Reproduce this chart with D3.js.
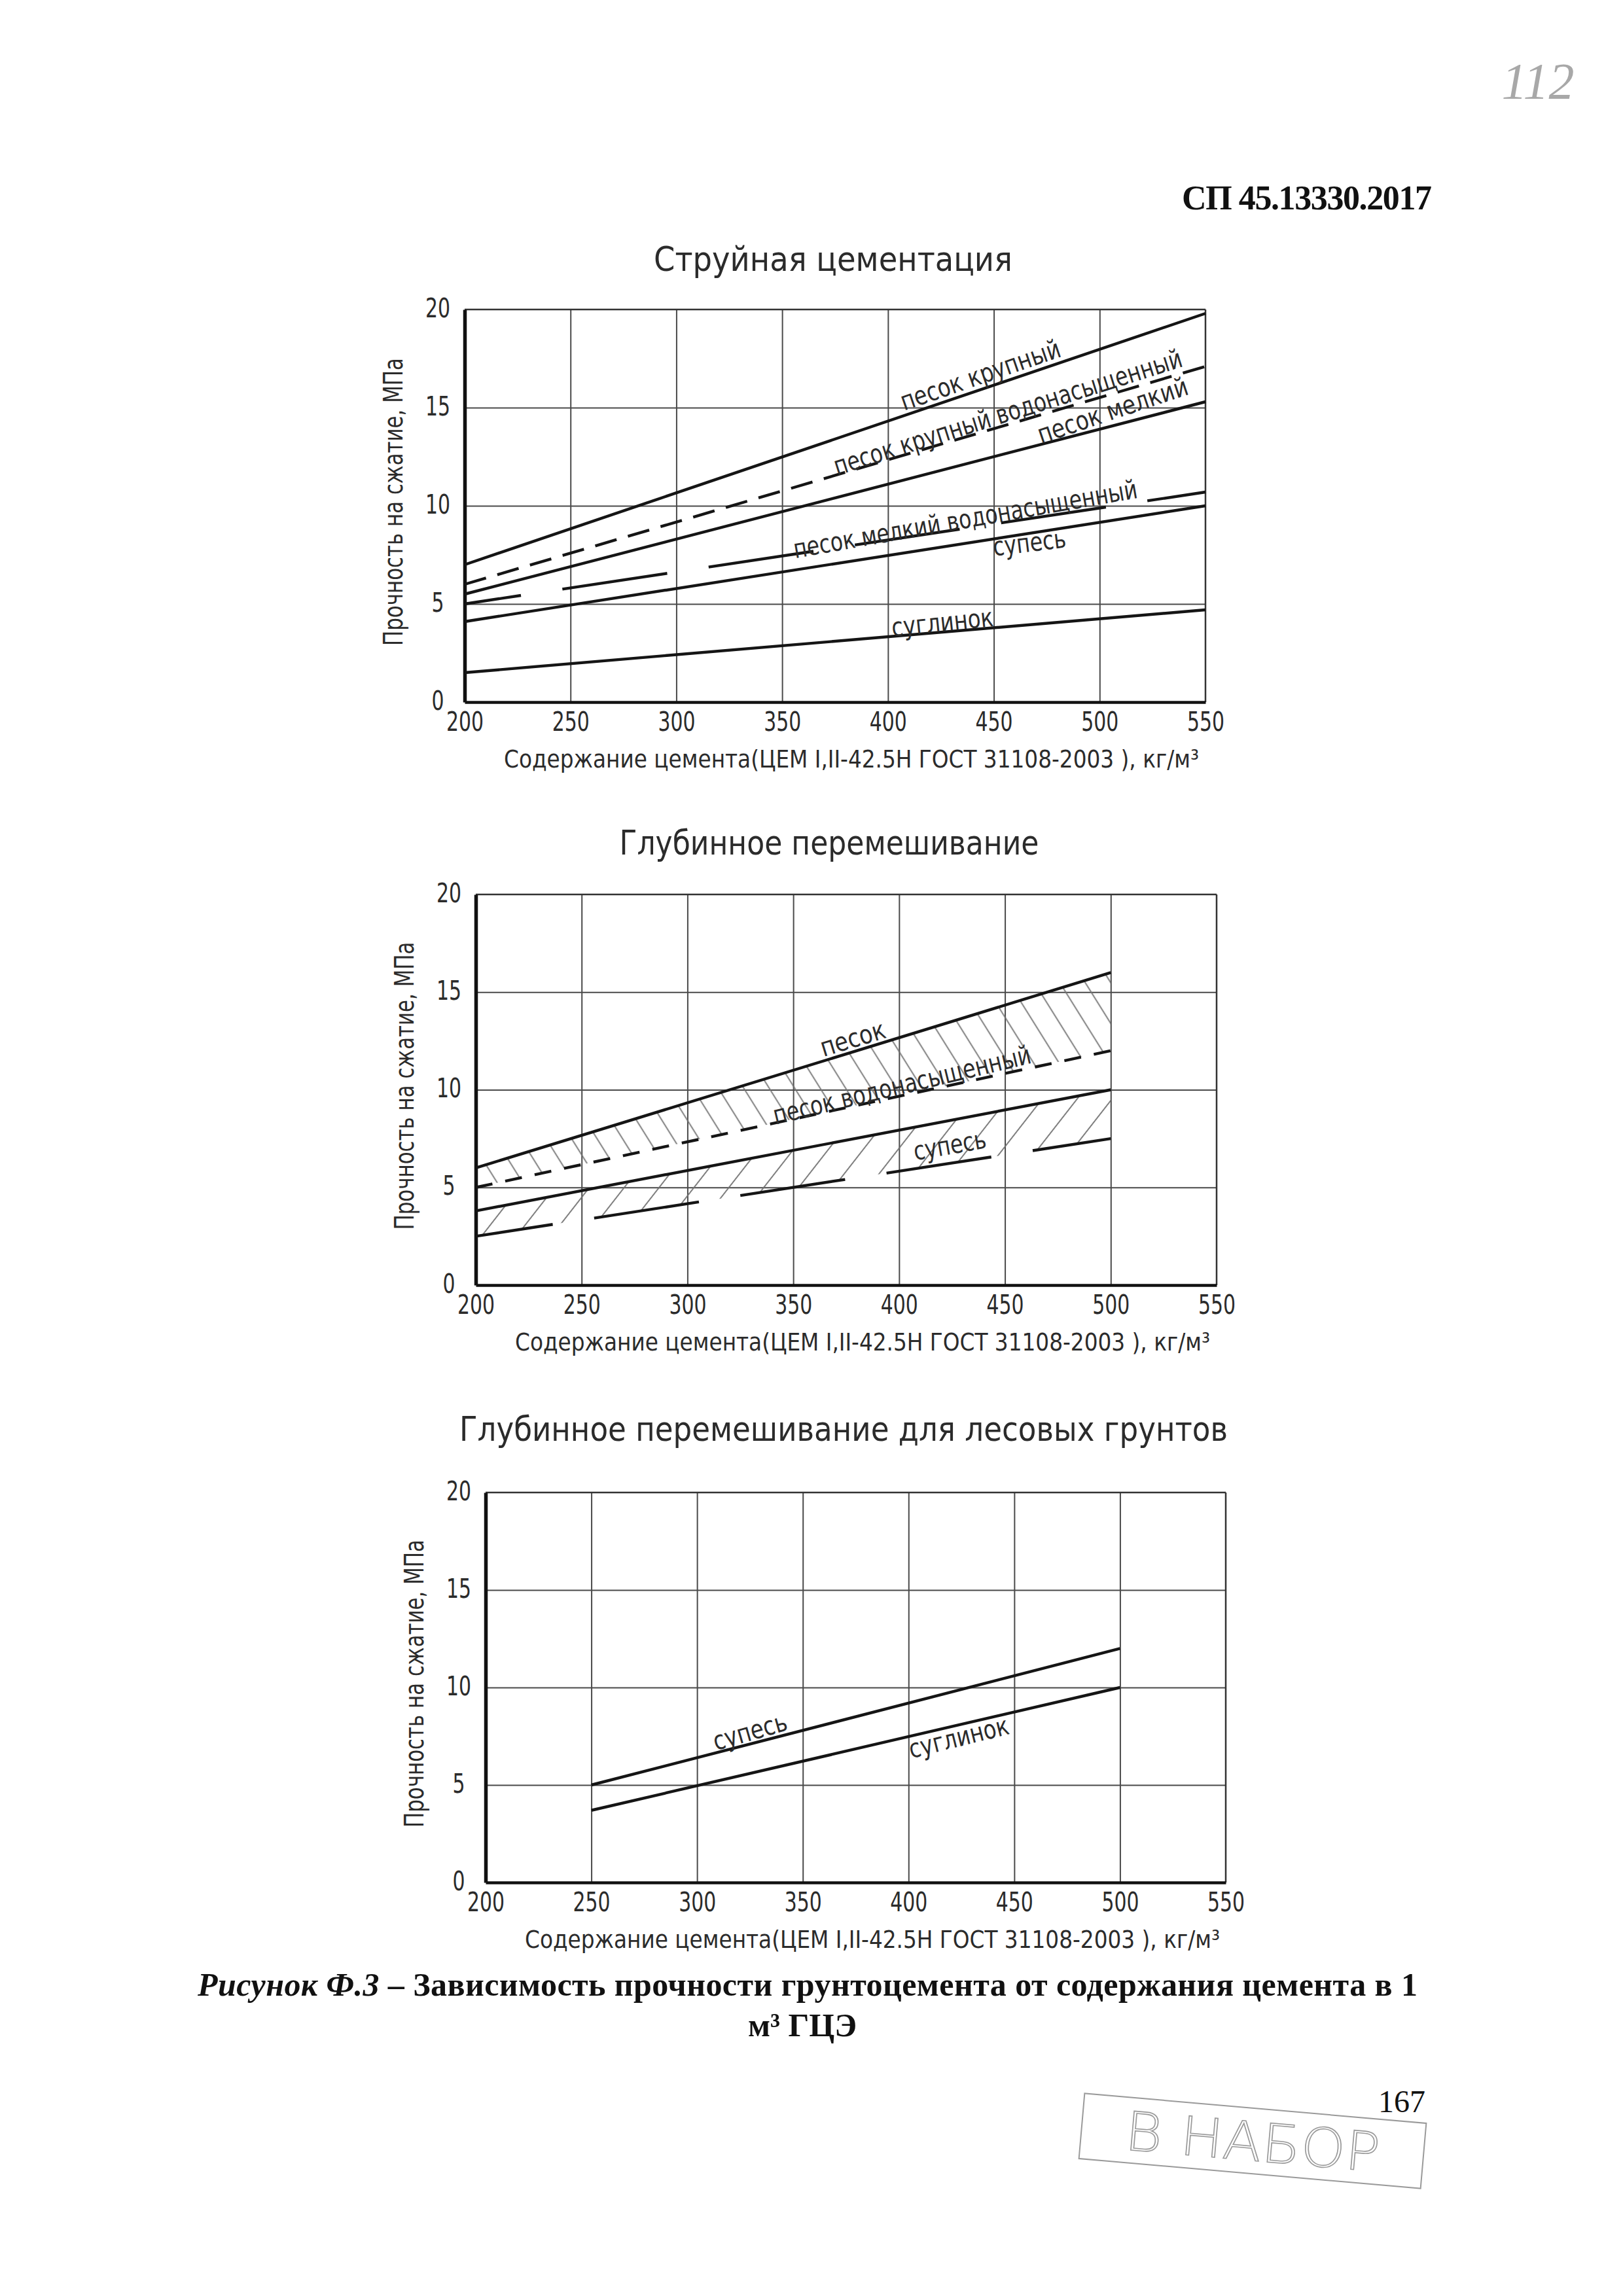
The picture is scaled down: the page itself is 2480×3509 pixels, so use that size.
<!DOCTYPE html>
<html><head><meta charset="utf-8">
<script src="https://cdn.jsdelivr.net/npm/d3@7"></script>
<style>
html,body{margin:0;padding:0;background:#fff;}
svg{display:block;}
.ct{font-family:"Liberation Sans Narrow","DejaVu Sans Condensed","Liberation Sans",sans-serif;fill:#2b2b2b;}
.serif{font-family:"Liberation Serif","Times New Roman",serif;fill:#111;}
</style></head><body>
<svg id="page" width="2480" height="3509"></svg>
<script>
// ---------- DATA ----------
const xTicks=[200,250,300,350,400,450,500,550];
const yTicks=[0,5,10,15,20];
const xTickLabels=["200","250","300","350","400","450","500","550"];
const yTickLabels=["0","5","10","15","20"];

// Струйная цементация
const jetX=[200,550];
const jetPesokKrupny=[7.0,19.8];
const jetPesokKrupnyVod=[6.0,17.1];
const jetPesokMelky=[5.5,15.3];
const jetPesokMelkyVod=[5.0,10.7];
const jetSupes=[4.1,10.0];
const jetSuglinok=[1.5,4.7];

// Глубинное перемешивание
const deepX=[200,500];
const deepPesok=[6.0,16.0];
const deepPesokVod=[5.0,12.0];
const deepSupesUpper=[3.8,10.0];
const deepSupesLower=[2.5,7.5];

// Глубинное перемешивание для лесовых грунтов
const loessX=[250,500];
const loessSupes=[5.0,12.0];
const loessSuglinok=[3.7,10.0];

const yAxisTitle="Прочность на сжатие, МПа";
const xAxisTitle="Содержание цемента(ЦЕМ I,II-42.5Н ГОСТ 31108-2003 ), кг/м³";

// ---------- LAYOUT ----------
const svg=d3.select("#page");
svg.append("rect").attr("width",2480).attr("height",3509).attr("fill","#fff");
const defs=svg.append("defs");
function hatch(id,angle,spacing){
  const p=defs.append("pattern").attr("id",id).attr("patternUnits","userSpaceOnUse")
    .attr("width",spacing).attr("height",spacing).attr("patternTransform",`rotate(${angle})`);
  p.append("line").attr("x1",spacing/2).attr("y1",-2).attr("x2",spacing/2).attr("y2",spacing+2)
    .attr("stroke","#707070").attr("stroke-width",1.8);
}
hatch("hatchBack",-32,33);
hatch("hatchFwd",38,42);

const zip=(xs,ys)=>xs.map((v,i)=>[v,ys[i]]);
const digitW=19;

const panels=[
 {title:"Струйная цементация",box:{l:710,r:1842,t:473,b:1073},titleX:1273,titleY:414,titleLen:548,
  bands:[],
  series:[
   {x:jetX,y:jetPesokKrupny},
   {x:jetX,y:jetPesokKrupnyVod,dash:"34,18"},
   {x:jetX,y:jetPesokMelky},
   {x:jetX,y:jetPesokMelkyVod,dash:"162,64",off:75},
   {x:jetX,y:jetSupes},
   {x:jetX,y:jetSuglinok}
  ],
  labels:[
   {t:"песок крупный",x:443.6,y:16.67,a:-19,w:256},
   {t:"песок крупный водонасыщенный",x:456.6,y:14.77,a:-17.5,w:556},
   {t:"песок мелкий",x:506.1,y:14.87,a:-18.5,w:240},
   {t:"песок мелкий водонасыщенный",x:436.5,y:9.33,a:-10,w:533},
   {t:"супесь",x:466.8,y:8.13,a:-7,w:112},
   {t:"суглинок",x:425.7,y:4.07,a:-6,w:156}
  ]},
 {title:"Глубинное перемешивание",box:{l:727,r:1859,t:1367,b:1964},titleX:1267,titleY:1306,titleLen:641,
  bands:[
   {x:deepX,y0:deepPesokVod,y1:deepPesok,fill:"url(#hatchBack)"},
   {x:deepX,y0:deepSupesLower,y1:deepSupesUpper,fill:"url(#hatchFwd)"}
  ],
  series:[
   {x:deepX,y:deepPesok},
   {x:deepX,y:deepPesokVod,dash:"26,20"},
   {x:deepX,y:deepSupesUpper},
   {x:deepX,y:deepSupesLower,dash:"162,64",off:43}
  ],
  labels:[
   {t:"песок",x:378.1,y:12.63,a:-17,w:102},
   {t:"песок водонасыщенный",x:401.3,y:10.25,a:-13.5,w:404},
   {t:"супесь",x:423.9,y:7.17,a:-10,w:112}
  ]},
 {title:"Глубинное перемешивание для лесовых грунтов",box:{l:742,r:1873,t:2281,b:2877},titleX:1289,titleY:2202,titleLen:1174,
  bands:[],
  series:[
   {x:loessX,y:loessSupes},
   {x:loessX,y:loessSuglinok}
  ],
  labels:[
   {t:"супесь",x:325.0,y:7.75,a:-16,w:116},
   {t:"суглинок",x:423.7,y:7.45,a:-14,w:156}
  ]}
];

panels.forEach(p=>{
  const {l,r,t,b}=p.box;
  const x=d3.scaleLinear().domain([xTicks[0],xTicks[xTicks.length-1]]).range([l,r]);
  const y=d3.scaleLinear().domain([yTicks[0],yTicks[yTicks.length-1]]).range([b,t]);
  const g=svg.append("g");

  // title
  g.append("text").attr("class","ct").attr("x",p.titleX).attr("y",p.titleY)
    .attr("text-anchor","middle").attr("font-size",52).attr("textLength",p.titleLen)
    .attr("lengthAdjust","spacingAndGlyphs").text(p.title);

  // grid
  const gx=g.append("g").attr("transform",`translate(0,${b})`)
    .call(d3.axisBottom(x).tickValues(xTicks.slice(1,-1)).tickSize(-(b-t)).tickFormat(""));
  gx.select(".domain").remove();
  gx.selectAll("line").attr("stroke","#4a4a4a").attr("stroke-width",2);
  const gy=g.append("g").attr("transform",`translate(${l},0)`)
    .call(d3.axisLeft(y).tickValues(yTicks.slice(1,-1)).tickSize(-(r-l)).tickFormat(""));
  gy.select(".domain").remove();
  gy.selectAll("line").attr("stroke","#4a4a4a").attr("stroke-width",2);

  // hatched bands
  p.bands.forEach(bd=>{
    const area=d3.area().x(d=>x(d[0])).y0(d=>y(d[1])).y1(d=>y(d[2]));
    g.append("path").datum(bd.x.map((v,i)=>[v,bd.y0[i],bd.y1[i]]))
      .attr("d",area).attr("fill",bd.fill).attr("stroke","none");
  });

  // frame
  g.append("line").attr("x1",l).attr("x2",r).attr("y1",t).attr("y2",t).attr("stroke","#333").attr("stroke-width",2.5);
  g.append("line").attr("x1",r).attr("x2",r).attr("y1",t).attr("y2",b).attr("stroke","#333").attr("stroke-width",2.5);

  // axes with tick labels
  const ax=g.append("g").attr("transform",`translate(0,${b})`)
    .call(d3.axisBottom(x).tickValues(xTicks).tickSize(0).tickFormat((d,i)=>xTickLabels[i]));
  ax.select(".domain").attr("stroke","#111").attr("stroke-width",4.5);
  ax.selectAll("text").attr("class","ct").attr("font-size",40).attr("y",44).attr("dy",0)
    .attr("fill","#2b2b2b").attr("textLength",function(){return this.textContent.length*digitW;})
    .attr("lengthAdjust","spacingAndGlyphs");
  const ay=g.append("g").attr("transform",`translate(${l},0)`)
    .call(d3.axisLeft(y).tickValues(yTicks).tickSize(0).tickFormat((d,i)=>yTickLabels[i]));
  ay.select(".domain").attr("stroke","#111").attr("stroke-width",5.5);
  ay.selectAll("text").attr("class","ct").attr("font-size",40).attr("x",-41).attr("y",11).attr("dy",0)
    .attr("text-anchor","middle").attr("fill","#2b2b2b")
    .attr("textLength",function(){return this.textContent.length*digitW;})
    .attr("lengthAdjust","spacingAndGlyphs");
  g.selectAll(".tick text").attr("font-family",null);
  ay.attr("text-anchor",null);

  // series
  const line=d3.line().x(d=>x(d[0])).y(d=>y(d[1]));
  p.series.forEach(s=>{
    const path=g.append("path").datum(zip(s.x,s.y)).attr("d",line)
      .attr("fill","none").attr("stroke","#151515").attr("stroke-width",4.4).attr("stroke-linecap","butt");
    if(s.dash){path.attr("stroke-dasharray",s.dash).attr("stroke-dashoffset",s.off||0);}
  });

  // curve labels
  p.labels.forEach(lb=>{
    g.append("text").attr("class","ct").attr("font-size",40)
      .attr("transform",`translate(${x(lb.x)},${y(lb.y)}) rotate(${lb.a})`)
      .attr("text-anchor","middle").attr("dy","0.35em")
      .attr("textLength",lb.w).attr("lengthAdjust","spacingAndGlyphs").text(lb.t);
  });

  // axis titles
  g.append("text").attr("class","ct").attr("font-size",40)
    .attr("transform",`translate(${l-95},${(t+b)/2-6}) rotate(-90)`)
    .attr("text-anchor","middle").attr("textLength",440).attr("lengthAdjust","spacingAndGlyphs").text(yAxisTitle);
  g.append("text").attr("class","ct").attr("font-size",38)
    .attr("x",l+60).attr("y",b+100).attr("textLength",1062).attr("lengthAdjust","spacingAndGlyphs").text(xAxisTitle);
});

// ---------- page furniture ----------
svg.append("text").attr("class","serif").attr("x",1806).attr("y",320).attr("font-size",52)
  .attr("font-weight","bold").attr("textLength",382).attr("lengthAdjust","spacing").text("СП 45.13330.2017");

svg.append("text").attr("x",2350).attr("y",150).attr("text-anchor","middle")
  .attr("font-family","Liberation Serif, serif").attr("font-style","italic").attr("font-size",78)
  .attr("fill","#a8a8a8").text("112");

const cap=svg.append("text").attr("class","serif").attr("x",302).attr("y",3050).attr("font-size",50)
  .attr("font-weight","bold").attr("textLength",1864).attr("lengthAdjust","spacing");
cap.append("tspan").attr("font-style","italic").text("Рисунок Ф.3");
cap.append("tspan").text(" – Зависимость прочности грунтоцемента от содержания цемента в 1");
svg.append("text").attr("class","serif").attr("x",1226).attr("y",3112).attr("font-size",50)
  .attr("font-weight","bold").attr("text-anchor","middle").text("м³ ГЦЭ");

svg.append("text").attr("class","serif").attr("x",2142).attr("y",3228).attr("font-size",48)
  .attr("text-anchor","middle").text("167");

const st=svg.append("g").attr("transform","translate(1914,3272) rotate(5)");
st.append("rect").attr("x",-262).attr("y",-50).attr("width",524).attr("height",100)
  .attr("fill","none").attr("stroke","#9a9a9a").attr("stroke-width",2);
st.append("text").attr("x",0).attr("y",30).attr("text-anchor","middle")
  .attr("font-family","DejaVu Sans, sans-serif").attr("font-size",82).attr("font-weight",300).attr("fill","none")
  .attr("stroke","#9a9a9a").attr("stroke-width",1.6).attr("textLength",390).attr("lengthAdjust","spacingAndGlyphs").text("В НАБОР");
</script>
</body></html>
